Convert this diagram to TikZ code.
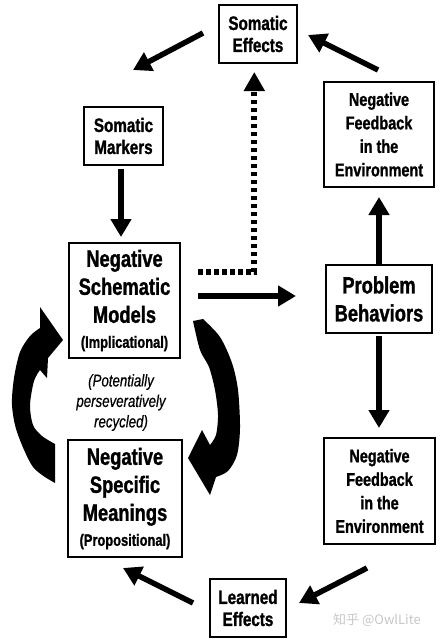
\documentclass[tikz,border=0pt]{standalone}
\usepackage{fontspec}
\setmainfont{Liberation Sans}[FakeStretch=0.78, BoldFeatures={FakeBold=1.2}, ItalicFeatures={FakeBold=0.6}]
\newfontfamily\wmfont{Noto Sans CJK SC}
\usetikzlibrary{arrows.meta}
\begin{document}
\begin{tikzpicture}[x=1pt,y=-1pt,
  box/.style={draw, line width=2.4pt, align=center, inner sep=0pt, font=\bfseries},
  fbig/.style={font=\bfseries\fontsize{23.5}{28}\selectfont},
  fmid/.style={font=\bfseries\fontsize{19.5}{22}\selectfont},
  fnf/.style={font=\bfseries\fontsize{18.5}{23.5}\selectfont},
  arr/.style={line width=5.5pt, -{Triangle[length=18pt,width=20pt]}},
  dotarr/.style={line width=6pt, dash pattern=on 4.5pt off 3.5pt, -{Triangle[length=19pt,width=20pt]}},
  crescent/.style={fill=black}
]
\useasboundingbox (0,0) rectangle (446,640);

% nodes
\node[box,fmid,minimum width=78pt,minimum height=58pt] (se) at (258,34) {Somatic\\Effects};
\node[box,fmid,minimum width=79pt,minimum height=58pt] (sm) at (123.5,136) {Somatic\\Markers};
\node[box,fnf,minimum width=110pt,minimum height=105pt] (nft) at (379,134.5) {Negative\\Feedback\\in the\\Environment};
\node[box,fbig,minimum width=111pt,minimum height=115pt] (nsm) at (124.5,300.5) {Negative\\Schematic\\Models\\[-3pt]{\fontsize{16.5}{20}\selectfont(Implicational)}};
\node[box,fbig,minimum width=106pt,minimum height=68pt] (pb) at (379,299) {Problem\\Behaviors};
\node[box,fnf,minimum width=111pt,minimum height=106pt] (nfb) at (379.5,491) {Negative\\Feedback\\in the\\Environment};
\node[box,fbig,minimum width=114pt,minimum height=117pt] (nspm) at (125,498.5) {Negative\\Specific\\Meanings\\[-3pt]{\fontsize{16.5}{20}\selectfont(Propositional)}};
\node[box,fmid,minimum width=76pt,minimum height=58pt] (le) at (248,608) {Learned\\Effects};

\node[align=center, font=\itshape\fontsize{17}{20.5}\selectfont, inner sep=0pt] (rec) at (121,402.5) {(Potentially\\perseveratively\\recycled)};

% connector end points
\coordinate (a1s) at (203,33);  \coordinate (a1e) at (133,70);
\coordinate (a2s) at (378,70);  \coordinate (a2e) at (308,35);
\coordinate (a3e) at (121,237);
\coordinate (d1) at (198,272);  \coordinate (d2) at (254.3,272); \coordinate (d3) at (254.3,72);
\coordinate (a4s) at (198,296); \coordinate (a4e) at (296,296);
\coordinate (a5e) at (379,197);
\coordinate (a6e) at (379,428);
\coordinate (a7s) at (367,568); \coordinate (a7e) at (299,603);
\coordinate (a8s) at (193,603); \coordinate (a8e) at (123,568);

\draw[arr] (a1s) -- (a1e);
\draw[arr] (a2s) -- (a2e);
\draw[arr, shorten <=3pt] (sm.south -| a3e) -- (a3e);
\draw[dotarr] (d1) -- (d2) -- (d3);
\draw[arr] (a4s) -- (a4e);
\draw[arr] (pb.north) -- (a5e);
\draw[arr, shorten <=2pt] (pb.south) -- (a6e);
\draw[arr] (a7s) -- (a7e);
\draw[arr] (a8s) -- (a8e);

% curved recycling arrows
\fill[crescent] (40,307) -- (63,340) -- (48,358) -- (47,378)
  -- plot[smooth] coordinates {(40,370) (34,381) (30,405) (33,425) (42,436) (55,444)}
  -- (55,483)
  -- plot[smooth] coordinates {(55,483) (33,467) (17,432) (12,405) (14,378) (20,352) (30,336) (40,328)}
  -- cycle;
\fill[crescent] (193,321) -- (203,319)
  -- plot[smooth] coordinates {(203,319) (220,337) (232,363) (238,390) (240,428) (237,455) (228,471) (216,477)}
  -- (210,495) -- (188,458) -- (202,430) -- (210,445)
  -- plot[smooth] coordinates {(210,445) (216,435) (218,415) (215,390) (209,367) (200,350) (193,321)}
  -- cycle;

% watermark
\node[font=\wmfont\fontsize{13}{15}\selectfont, text=black!22, anchor=west, inner sep=0pt] (wm) at (333,620) {知乎 @OwlLite};
\end{tikzpicture}
\end{document}
